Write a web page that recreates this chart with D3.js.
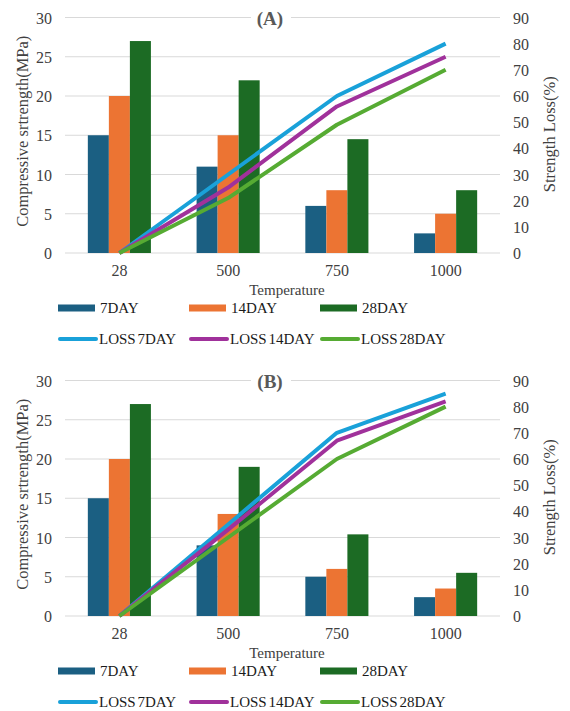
<!DOCTYPE html>
<html>
<head>
<meta charset="utf-8">
<script src="https://cdn.jsdelivr.net/npm/d3@7"></script>
<style>
  html, body { margin: 0; padding: 0; background: #fff; }
  svg { display: block; }
</style>
</head>
<body>
<svg id="chart" width="570" height="711"></svg>
<script>
// ---------- data ----------
const categories = ["28", "500", "750", "1000"];
const barSeries = ["7DAY", "14DAY", "28DAY"];
const lineSeries = ["LOSS 7DAY", "LOSS 14DAY", "LOSS 28DAY"];
const leftTicks = [0, 5, 10, 15, 20, 25, 30];
const rightTicks = [0, 10, 20, 30, 40, 50, 60, 70, 80, 90];

const A_7DAY = [15, 11, 6, 2.5];
const A_14DAY = [20, 15, 8, 5];
const A_28DAY = [27, 22, 14.5, 8];
const A_LOSS7 = [0, 30, 60, 80];
const A_LOSS14 = [0, 25, 56, 75];
const A_LOSS28 = [0, 21, 49, 70];

const B_7DAY = [15, 9, 5, 2.4];
const B_14DAY = [20, 13, 6, 3.5];
const B_28DAY = [27, 19, 10.4, 5.5];
const B_LOSS7 = [0, 35, 70, 85];
const B_LOSS14 = [0, 33, 67, 82];
const B_LOSS28 = [0, 30, 60, 80];

const barColors = ["#1b5f82", "#ec7433", "#1c6b24"];
const lineColors = ["#19a1d9", "#a0319b", "#56ab33"];
const SERIF = '"Liberation Serif", "Times New Roman", "DejaVu Serif", serif';

const svg = d3.select("#chart");

function drawPanel(title, top, bars, lines) {
  const g = svg.append("g").attr("transform", `translate(0,${top})`);
  const plotTop = 17.5, plotBottom = 253, plotLeft = 65, plotRight = 500;

  const x = d3.scaleBand().domain(categories).range([plotLeft, plotRight]).padding(0);
  const groupW = x.bandwidth() * 0.58;
  const xs = d3.scaleBand().domain(barSeries).range([0, groupW]).padding(0);
  const yL = d3.scaleLinear().domain([0, 30]).range([plotBottom, plotTop]);
  const yR = d3.scaleLinear().domain([0, 90]).range([plotBottom, plotTop]);

  // gridlines
  g.append("g").selectAll("line").data(leftTicks).join("line")
    .attr("x1", plotLeft).attr("x2", plotRight)
    .attr("y1", d => yL(d)).attr("y2", d => yL(d))
    .attr("stroke", "#d9d9d9").attr("stroke-width", 1.2);

  // left axis
  const la = g.append("g").attr("transform", `translate(${plotLeft - 13},0)`)
    .call(d3.axisLeft(yL).tickValues(leftTicks).tickSize(0).tickPadding(0));
  la.select(".domain").remove();
  la.attr("font-family", null);
  la.selectAll("text").style("font-size", "16px").attr("fill", "#404040").attr("dy", "0.35em");

  // right axis
  const ra = g.append("g").attr("transform", `translate(${plotRight + 13},0)`)
    .call(d3.axisRight(yR).tickValues(rightTicks).tickSize(0).tickPadding(0));
  ra.select(".domain").remove();
  ra.attr("font-family", null);
  ra.selectAll("text").style("font-size", "16px").attr("fill", "#404040").attr("dy", "0.35em");

  // x axis labels
  const xa = g.append("g").attr("transform", `translate(0,${plotBottom + 12})`)
    .call(d3.axisBottom(x).tickSize(0).tickPadding(0));
  xa.select(".domain").remove();
  xa.attr("font-family", null);
  xa.selectAll("text").style("font-size", "16px").attr("fill", "#404040").attr("dy", "0.71em");

  // bars
  bars.forEach((vals, si) => {
    g.append("g").selectAll("rect").data(vals).join("rect")
      .attr("x", (d, i) => x(categories[i]) + (x.bandwidth() - groupW) / 2 + xs(barSeries[si]))
      .attr("width", xs.bandwidth())
      .attr("y", d => yL(d))
      .attr("height", d => plotBottom - yL(d))
      .attr("fill", barColors[si]);
  });

  // lines
  const line = d3.line()
    .x((d, i) => x(categories[i]) + x.bandwidth() / 2)
    .y(d => yR(d));
  lines.forEach((vals, si) => {
    g.append("path").datum(vals)
      .attr("d", line)
      .attr("fill", "none")
      .attr("stroke", lineColors[si])
      .attr("stroke-width", 4)
      .attr("stroke-linejoin", "round")
      .attr("stroke-linecap", "butt");
  });

  // title with white box
  g.append("rect").attr("x", 251).attr("y", plotTop - 10).attr("width", 40).attr("height", 20).attr("fill", "#fff");
  g.append("text").attr("x", 270).attr("y", plotTop + 7)
    .attr("text-anchor", "middle")
    .style("font-size", "19px").style("font-weight", "bold")
    .attr("fill", "#595959")
    .text(title);

  // axis titles
  g.append("text")
    .attr("transform", `translate(22,${(plotTop + plotBottom) / 2 - 4}) rotate(-90)`)
    .attr("text-anchor", "middle").attr("dy", "0.35em")
    .style("font-size", "16.5px").attr("fill", "#404040")
    .text("Compressive srtrength(MPa)");
  g.append("text")
    .attr("transform", `translate(549,${(plotTop + plotBottom) / 2 - 1}) rotate(-90)`)
    .attr("text-anchor", "middle").attr("dy", "0.35em")
    .style("font-size", "16.5px").attr("fill", "#404040")
    .text("Strength Loss(%)");
  g.append("text")
    .attr("x", 287).attr("y", 290).attr("dy", "0.35em")
    .attr("text-anchor", "middle")
    .style("font-size", "15px").attr("fill", "#404040")
    .text("Temperature");

  // legend
  const legX = [58, 189, 320];
  const lg = g.append("g");
  barSeries.forEach((s, i) => {
    lg.append("rect").attr("x", legX[i]).attr("y", 308 - 3.5).attr("width", 37).attr("height", 7).attr("fill", barColors[i]);
    lg.append("text").attr("x", legX[i] + 42).attr("y", 308).attr("dy", "0.35em")
      .style("font-size", "15px").attr("fill", "#1a1a1a").text(s);
  });
  lineSeries.forEach((s, i) => {
    lg.append("line").attr("x1", legX[i] + 2).attr("x2", legX[i] + 38)
      .attr("y1", 339).attr("y2", 339)
      .attr("stroke", lineColors[i]).attr("stroke-width", 4).attr("stroke-linecap", "round");
    lg.append("text").attr("x", legX[i] + 41).attr("y", 339).attr("dy", "0.35em")
      .style("font-size", "15px").style("word-spacing", "-2px").attr("fill", "#1a1a1a").text(s);
  });
}

drawPanel("(A)", 0, [A_7DAY, A_14DAY, A_28DAY], [A_LOSS7, A_LOSS14, A_LOSS28]);
drawPanel("(B)", 363, [B_7DAY, B_14DAY, B_28DAY], [B_LOSS7, B_LOSS14, B_LOSS28]);

svg.selectAll("text").style("font-family", SERIF);
</script>
</body>
</html>
